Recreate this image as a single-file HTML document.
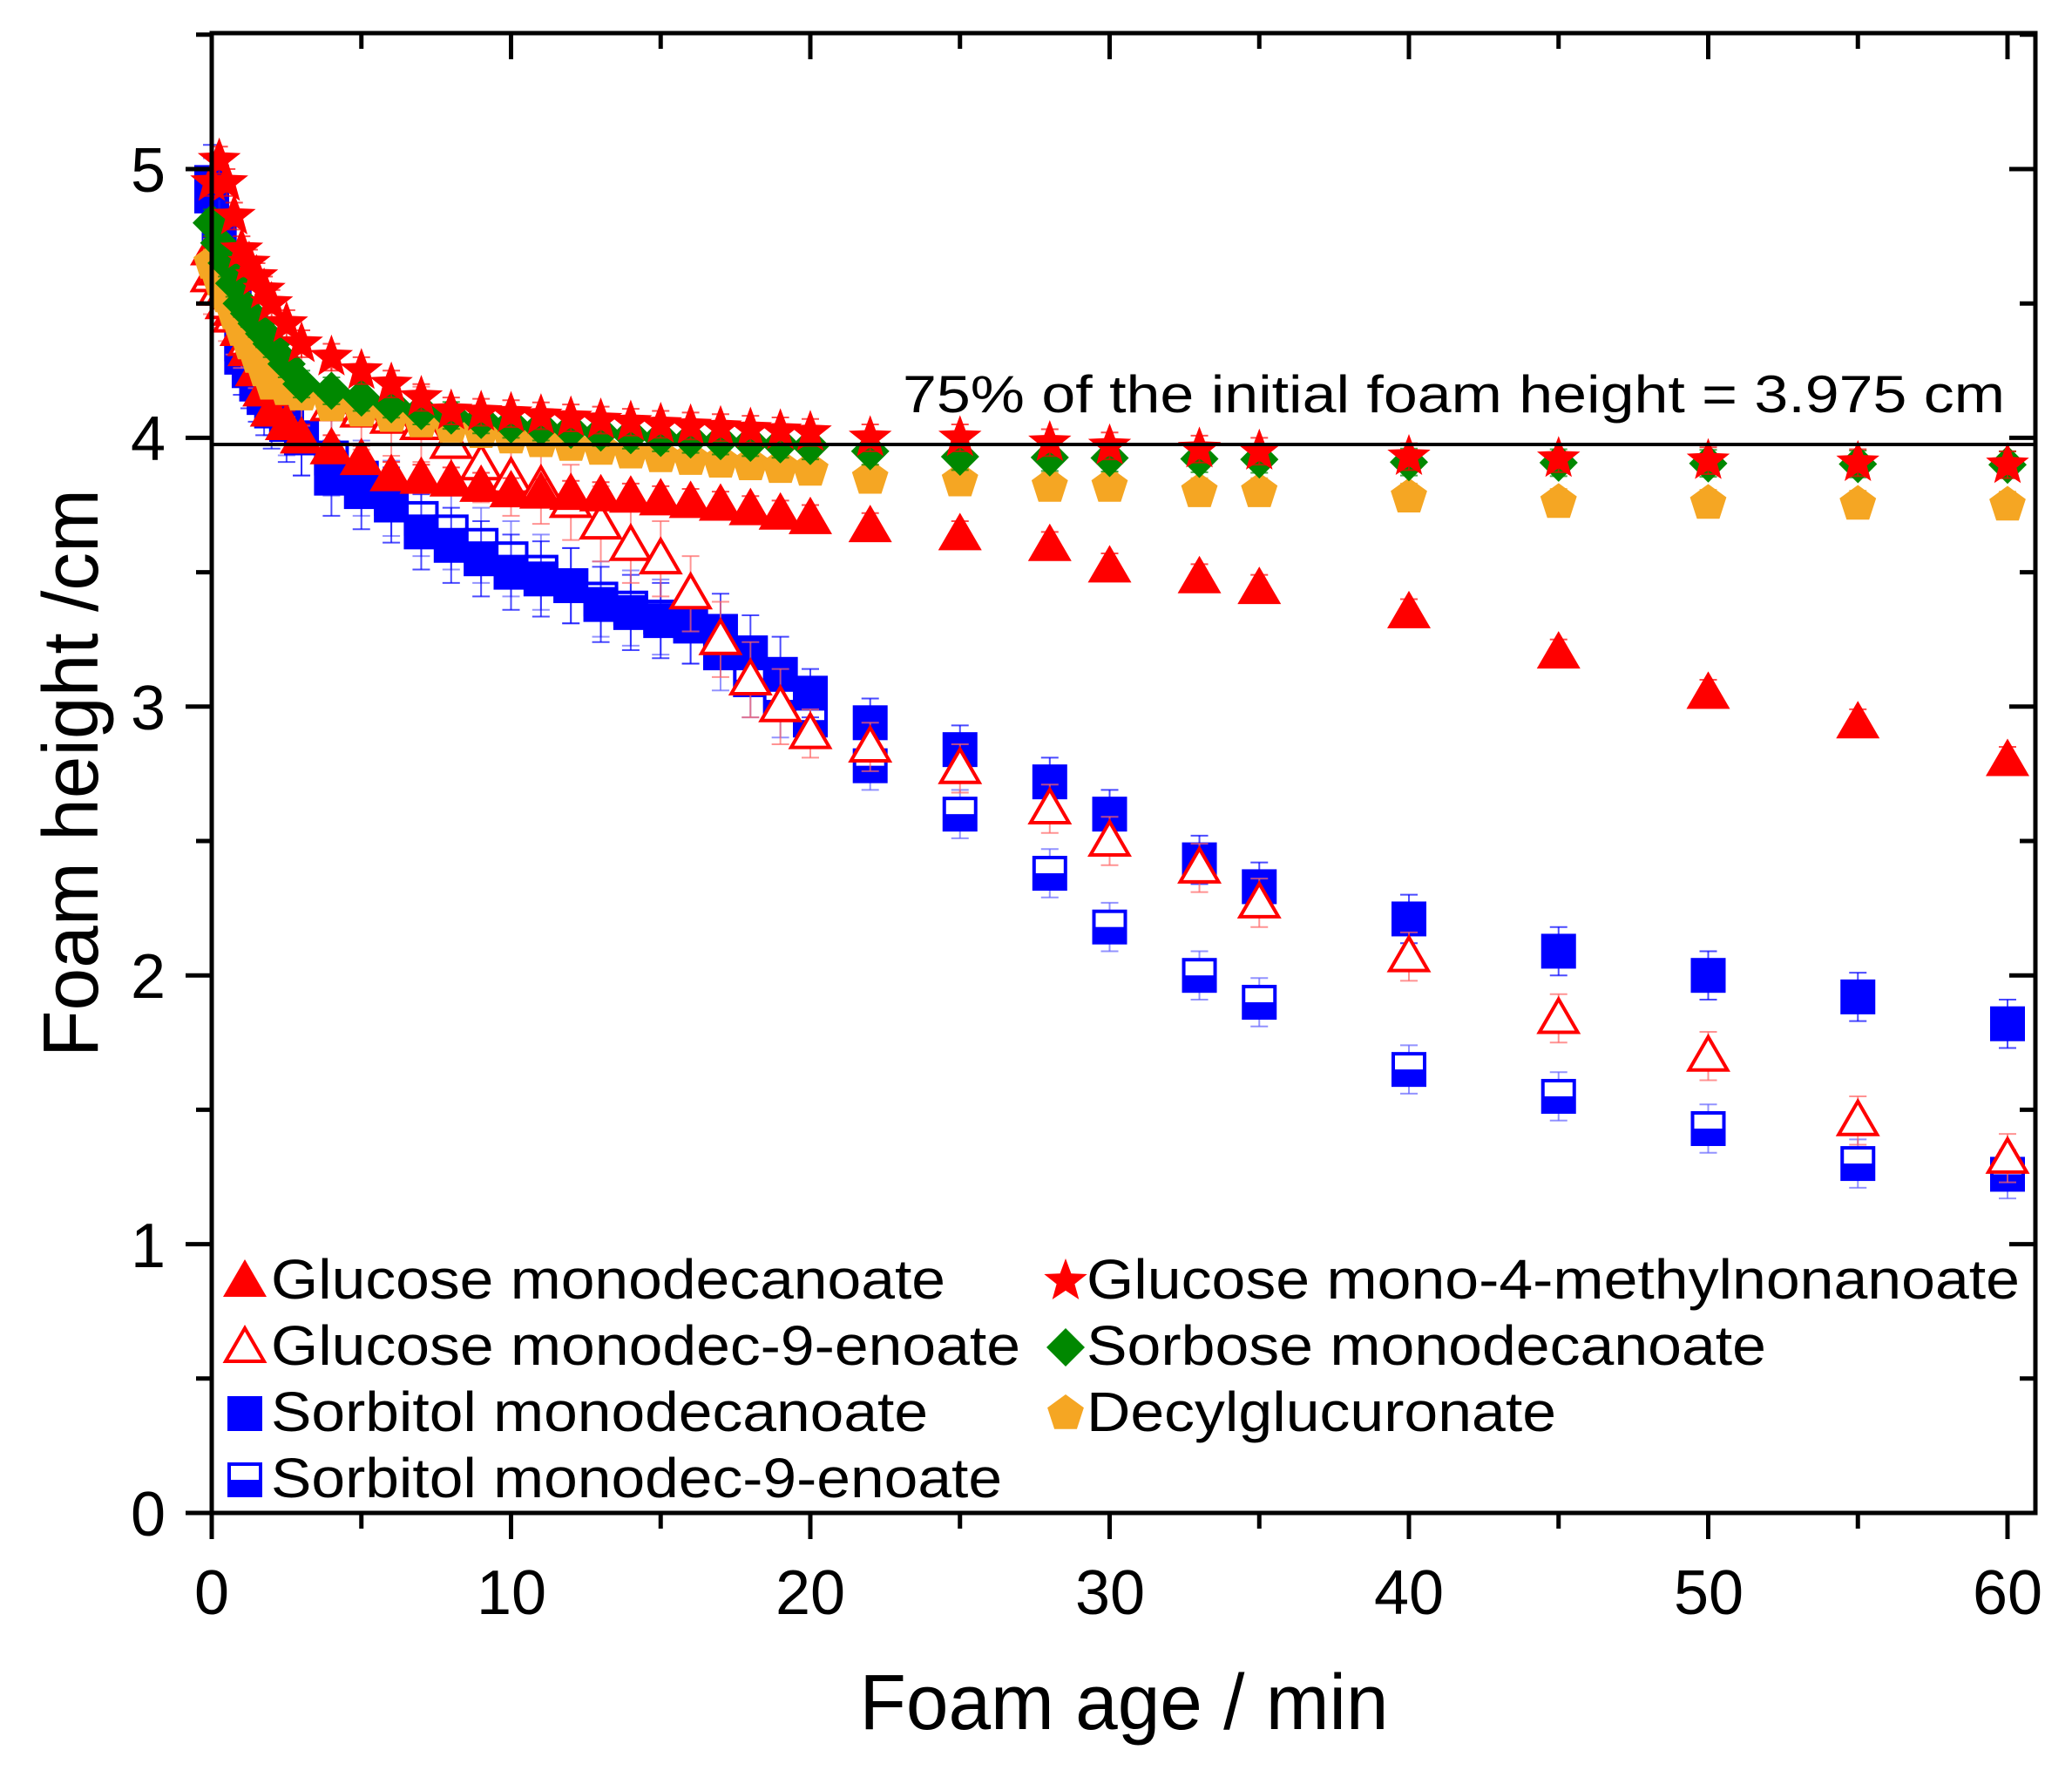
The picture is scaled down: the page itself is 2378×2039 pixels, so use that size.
<!DOCTYPE html>
<html><head><meta charset="utf-8"><style>
html,body{margin:0;padding:0;background:#fff;}
svg{display:block;font-family:"Liberation Sans",Arial,sans-serif;}
</style></head><body>
<svg id="s" width="2378" height="2039" viewBox="0 0 2378 2039" xmlns="http://www.w3.org/2000/svg">
<rect width="2378" height="2039" fill="#fff"/>
<g id="data"></g>
<line x1="243" y1="510" x2="2336" y2="510" stroke="#000" stroke-width="4"/>
<text x="1036" y="473" font-size="60" textLength="1265" lengthAdjust="spacingAndGlyphs">75% of the initial foam height = 3.975 cm</text>
<rect x="243" y="38" width="2093" height="1698" fill="none" stroke="#000" stroke-width="5"/>
<g id="ticks" stroke="#000" stroke-width="5"></g>
<g font-size="72" text-anchor="end">
<text x="190" y="1762">0</text><text x="190" y="1454">1</text><text x="190" y="1145">2</text>
<text x="190" y="837">3</text><text x="190" y="528">4</text><text x="190" y="220">5</text>
</g>
<g font-size="72" text-anchor="middle">
<text x="243" y="1852">0</text><text x="587" y="1852">10</text><text x="930" y="1852">20</text>
<text x="1274" y="1852">30</text><text x="1617" y="1852">40</text><text x="1961" y="1852">50</text><text x="2304" y="1852">60</text>
</g>
<text x="1290" y="1984" font-size="90" text-anchor="middle" textLength="607" lengthAdjust="spacingAndGlyphs">Foam age / min</text>
<text transform="translate(112,887) rotate(-90)" font-size="90" text-anchor="middle" textLength="652" lengthAdjust="spacingAndGlyphs">Foam height /cm</text>
<g font-size="64" id="legtext">
<text x="311" y="1490" textLength="774" lengthAdjust="spacingAndGlyphs">Glucose monodecanoate</text>
<text x="311" y="1566" textLength="860" lengthAdjust="spacingAndGlyphs">Glucose monodec-9-enoate</text>
<text x="311" y="1642" textLength="754" lengthAdjust="spacingAndGlyphs">Sorbitol monodecanoate</text>
<text x="311" y="1718" textLength="839" lengthAdjust="spacingAndGlyphs">Sorbitol monodec-9-enoate</text>
<text x="1247" y="1490" textLength="1071" lengthAdjust="spacingAndGlyphs">Glucose mono-4-methylnonanoate</text>
<text x="1247" y="1566" textLength="780" lengthAdjust="spacingAndGlyphs">Sorbose monodecanoate</text>
<text x="1247" y="1642" textLength="539" lengthAdjust="spacingAndGlyphs">Decylglucuronate</text>
</g>
<g id="leg"></g>
</svg>
<script>
var NS="http://www.w3.org/2000/svg";
function X(t){return 243+t*34.35;}
function Y(v){return 1736-v*308.4;}
function el(p,tag,a){var e=document.createElementNS(NS,tag);for(var k in a)e.setAttribute(k,a[k]);p.appendChild(e);return e;}
var tk=document.getElementById('ticks');
for(var v=0;v<=5.5;v+=0.5){var maj=(v%1===0);var y=Y(v);
 el(tk,'line',{x1:243,y1:y,x2:243-(maj?30:18),y2:y});
 el(tk,'line',{x1:2336,y1:y,x2:2336-(maj?30:18),y2:y});}
for(var t=0;t<=60;t+=5){var maj=(t%10===0);var x=X(t);
 el(tk,'line',{x1:x,y1:1736,x2:x,y2:1736+(maj?30:18)});
 el(tk,'line',{x1:x,y1:38,x2:x,y2:38+(maj?30:18)});}
var T=[0,0.25,0.5,0.75,1,1.25,1.5,1.75,2,2.5,3,4,5,6,7,8,9,10,11,12,13,14,15,16,17,18,19,20,22,25,28,30,33,35,40,45,50,55,60];
function interp(k,t){for(var i=0;i<k.length-1;i++){if(t<=k[i+1][0]){var a=k[i],b=k[i+1];return a[1]+(b[1]-a[1])*(t-a[0])/(b[0]-a[0]);}}return k[k.length-1][1];}
var S={
sqo:[[0,4.9],[1,4.35],[2,4.15],[3,4.0],[5,3.85],[7,3.7],[10,3.55],[13,3.4],[16,3.3],[18,3.1],[20,2.95],[22,2.78],[25,2.6],[28,2.38],[30,2.18],[33,2.0],[35,1.9],[40,1.65],[45,1.55],[50,1.43],[55,1.3],[60,1.26]],
sq:[[0,4.95],[1,4.3],[2,4.1],[3,4.0],[4,3.85],[5,3.8],[6,3.75],[7,3.65],[8,3.6],[9,3.55],[10,3.5],[12,3.45],[13,3.38],[15,3.32],[17,3.28],[18,3.2],[19,3.12],[20,3.05],[22,2.94],[25,2.84],[28,2.72],[30,2.6],[33,2.43],[35,2.33],[40,2.21],[45,2.09],[50,2.0],[55,1.92],[60,1.82]],
tro:[[0,4.6],[1,4.4],[2,4.25],[4,4.12],[7,4.05],[8,3.98],[9,3.9],[10,3.85],[11,3.82],[12,3.76],[13,3.68],[14,3.6],[15,3.55],[16,3.42],[17,3.25],[18,3.1],[19,3.0],[20,2.9],[22,2.85],[25,2.77],[28,2.62],[30,2.5],[33,2.4],[35,2.27],[40,2.07],[45,1.84],[50,1.7],[55,1.46],[60,1.32]],
tr:[[0,4.7],[1,4.4],[2,4.1],[3,4.0],[5,3.92],[6,3.86],[8,3.84],[10,3.8],[14,3.78],[17,3.75],[20,3.7],[22,3.67],[25,3.64],[28,3.6],[30,3.52],[33,3.48],[35,3.44],[40,3.35],[45,3.2],[50,3.05],[55,2.94],[60,2.8]],
pe:[[0,4.65],[1,4.4],[2,4.2],[4,4.12],[6,4.08],[10,4.0],[15,3.93],[20,3.88],[22,3.85],[25,3.84],[28,3.82],[30,3.82],[33,3.8],[35,3.8],[40,3.78],[45,3.76],[60,3.75]],
di:[[0,4.8],[1,4.5],[2,4.35],[3,4.2],[5,4.15],[7,4.1],[10,4.05],[15,4.0],[20,3.97],[22,3.95],[25,3.93],[35,3.92],[40,3.91],[60,3.9]],
st:[[0,4.95],[0.3,5.05],[1,4.7],[2,4.5],[3,4.35],[4,4.3],[5,4.25],[6,4.2],[7,4.15],[8,4.1],[10,4.09],[15,4.05],[20,4.02],[22,4.0],[25,4.0],[30,3.97],[35,3.95],[40,3.93],[60,3.9]]};
var g=document.getElementById('data');
function star(p,cx,cy,r,c){var pts=[];for(var i=0;i<10;i++){var a=-Math.PI/2+i*Math.PI/5;var rr=i%2?r*0.42:r;pts.push((cx+rr*Math.cos(a)).toFixed(1)+','+(cy+rr*Math.sin(a)).toFixed(1));}el(p,'polygon',{points:pts.join(' '),fill:c});}
function poly(p,cx,cy,r,n,c,rot){var pts=[];for(var i=0;i<n;i++){var a=rot+i*2*Math.PI/n;pts.push((cx+r*Math.cos(a)).toFixed(1)+','+(cy+r*Math.sin(a)).toFixed(1));}el(p,'polygon',{points:pts.join(' '),fill:c});}
function marker(p,type,x,y){
 if(type=='sq')el(p,'rect',{x:x-20,y:y-20,width:40,height:40,fill:'#0000ff'});
 else if(type=='sqo'){el(p,'rect',{x:x-18,y:y-18,width:36,height:36,fill:'#fff',stroke:'#0000ff','stroke-width':4});el(p,'rect',{x:x-18,y:y,width:36,height:18,fill:'#0000ff'});}
 else if(type=='tr')el(p,'polygon',{points:(x)+','+(y-25)+' '+(x-25)+','+(y+18)+' '+(x+25)+','+(y+18),fill:'#ff0000'});
 else if(type=='tro')el(p,'polygon',{points:(x)+','+(y-22)+' '+(x-22)+','+(y+16)+' '+(x+22)+','+(y+16),fill:'#fff',stroke:'#ff0000','stroke-width':4});
 else if(type=='pe')poly(p,x,y,22,5,'#f5a623',-Math.PI/2);
 else if(type=='di')poly(p,x,y,22,4,'#008800',0);
 else if(type=='st')star(p,x,y,26,'#ff0000');}
var col={sq:'#0000ff',sqo:'#6666ff',tr:'#ff0000',tro:'#ff6666',pe:'#f5a623',di:'#008800',st:'#ff0000'};
var order=['sqo','sq','tro','tr','pe','di','st'];
order.forEach(function(k){
 var pts=[];T.forEach(function(t){pts.push(X(t).toFixed(1)+','+Y(interp(S[k],t)).toFixed(1));});
 if(k=='di')el(g,'polyline',{points:pts.filter(function(_,i){return T[i]<=20;}).join(' '),fill:'none',stroke:'#008800','stroke-width':5});
 T.forEach(function(t){var v=interp(S[k],t);var x=X(t),y=Y(v);
  var e=(k=='sq'||k=='sqo'||k=='tro')?(t<20?0.14:0.09):0.05;
  el(g,'line',{x1:x,y1:Y(v-e),x2:x,y2:Y(v+e),stroke:col[k],'stroke-width':2,opacity:0.7});
  el(g,'line',{x1:x-10,y1:Y(v+e),x2:x+10,y2:Y(v+e),stroke:col[k],'stroke-width':2,opacity:0.7});
  el(g,'line',{x1:x-10,y1:Y(v-e),x2:x+10,y2:Y(v-e),stroke:col[k],'stroke-width':2,opacity:0.7});
  marker(g,k,x,y);});
});
var L=document.getElementById('leg');
marker(L,'tr',281,1470);marker(L,'tro',281,1546);marker(L,'sq',281,1622);marker(L,'sqo',281,1698);
marker(L,'st',1223,1470);marker(L,'di',1223,1546);marker(L,'pe',1223,1622);
</script>
</body></html>
